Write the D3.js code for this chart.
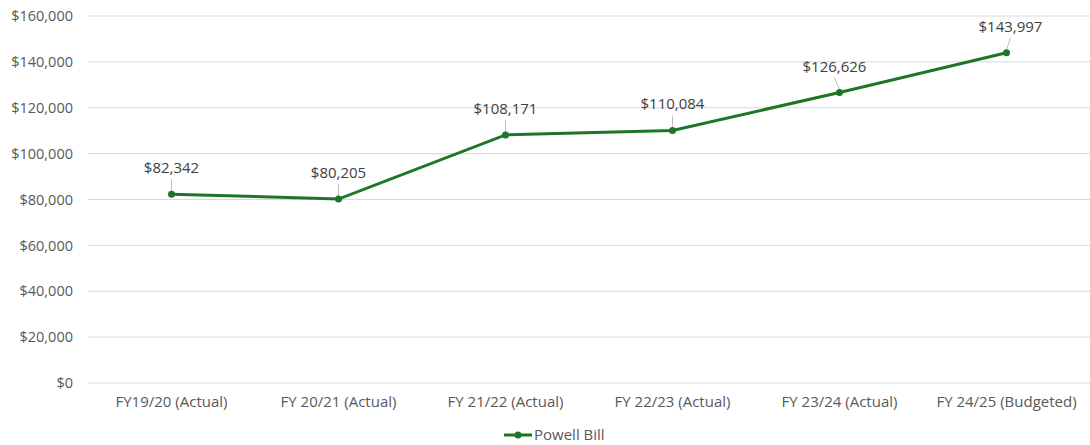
<!DOCTYPE html>
<html>
<head>
<meta charset="utf-8">
<script src="https://cdn.jsdelivr.net/npm/d3@7"></script>
<style>
  body { margin: 0; background: #fff; }
  text { font-family: "Open Sans", "Liberation Sans", sans-serif; }
</style>
</head>
<body>
<div id="chart"></div>
<script>
// chart data
var categories = ["FY19/20 (Actual)", "FY 20/21 (Actual)", "FY 21/22 (Actual)",
                  "FY 22/23 (Actual)", "FY 23/24 (Actual)", "FY 24/25 (Budgeted)"];
var values = [82342, 80205, 108171, 110084, 126626, 143997];
var yTicks = [0, 20000, 40000, 60000, 80000, 100000, 120000, 140000, 160000];
var seriesName = "Powell Bill";
// small horizontal nudge of the data labels, as Excel placed them
var labelShift = [0, 0, 0, 0, -5, 4];

var width = 1090, height = 445;
var margin = { top: 16, right: 0, bottom: 62, left: 88 };
var green = "#1e7527";

var svg = d3.select("#chart").append("svg")
    .attr("width", width)
    .attr("height", height);

var g = svg.append("g")
    .attr("transform", "translate(" + margin.left + "," + margin.top + ")");

var w = width - margin.left - margin.right;
var h = height - margin.top - margin.bottom;

var x = d3.scaleBand().domain(categories).range([0, w]);
var y = d3.scaleLinear().domain([0, 160000]).range([h, 0]);

// gridlines
g.selectAll(".grid")
  .data(yTicks)
  .enter().append("line")
    .attr("x1", 0).attr("x2", w)
    .attr("y1", function(d) { return y(d); })
    .attr("y2", function(d) { return y(d); })
    .attr("stroke", "#d9d9d9")
    .attr("stroke-width", 1);

// y axis labels
var yAxis = d3.axisLeft(y).tickValues(yTicks)
  .tickFormat(function(d) { return "$" + d3.format(",")(d); })
  .tickSize(0).tickPadding(15);
g.append("g").call(yAxis)
  .call(function(s) { s.select(".domain").remove(); })
  .selectAll("text")
    .attr("fill", "#595959")
    .style("font-size", "14.5px");

// x axis labels
var xAxis = d3.axisBottom(x).tickSize(0).tickPadding(13);
g.append("g").attr("transform", "translate(0," + h + ")").call(xAxis)
  .call(function(s) { s.select(".domain").remove(); })
  .selectAll("text")
    .attr("fill", "#595959")
    .style("font-size", "15px");

function cx(d, i) { return x(categories[i]) + x.bandwidth() / 2; }

// leader lines
g.selectAll(".leader")
  .data(values)
  .enter().append("line")
    .attr("x1", function(d, i) { return cx(d, i) + labelShift[i]; })
    .attr("x2", function(d, i) { return cx(d, i); })
    .attr("y1", function(d) { return y(d) - 15; })
    .attr("y2", function(d) { return y(d) - 3; })
    .attr("stroke", "#bfbfbf")
    .attr("stroke-width", 1);

// the line
var line = d3.line()
  .x(function(d, i) { return cx(d, i); })
  .y(function(d) { return y(d); });

g.append("path")
  .datum(values)
  .attr("d", line)
  .attr("fill", "none")
  .attr("stroke", green)
  .attr("stroke-width", 3);

g.selectAll(".dot")
  .data(values)
  .enter().append("circle")
    .attr("cx", cx)
    .attr("cy", function(d) { return y(d); })
    .attr("r", 3.5)
    .attr("fill", green);

// data labels
g.selectAll(".lbl")
  .data(values)
  .enter().append("text")
    .attr("x", function(d, i) { return cx(d, i) + labelShift[i]; })
    .attr("y", function(d) { return y(d) - 21; })
    .attr("text-anchor", "middle")
    .attr("fill", "#404040")
    .style("font-size", "15px")
    .text(function(d) { return "$" + d3.format(",")(d); });

// legend
var lg = svg.append("g").attr("transform", "translate(504,435)");
lg.append("line").attr("x1", 0).attr("x2", 28).attr("y1", 0).attr("y2", 0)
  .attr("stroke", green).attr("stroke-width", 3);
lg.append("circle").attr("cx", 14).attr("cy", 0).attr("r", 3.5).attr("fill", green);
lg.append("text").attr("x", 30).attr("y", 0).attr("dy", "0.35em")
  .attr("fill", "#595959").style("font-size", "15px").text(seriesName);
</script>
</body>
</html>
